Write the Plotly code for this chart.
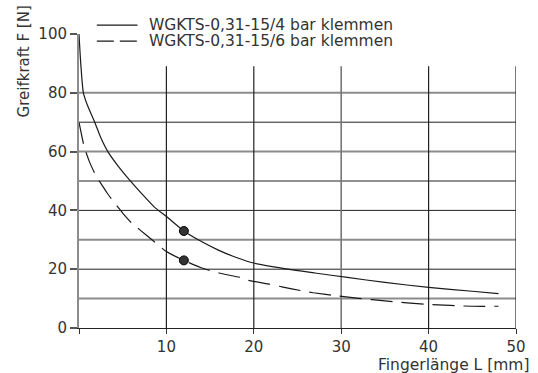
import plotly.graph_objects as go

# ---- data ----
x_4bar = [0, 0.2, 0.5, 1.0, 1.8, 2.5, 3.3, 4.5, 5.8, 7.2, 8.6, 10, 12, 13.7, 16, 18, 20, 23.5, 27, 30.7, 35, 40, 45, 48]
y_4bar = [100, 90, 80, 75.5, 70, 64.7, 60, 55, 50.3, 45.6, 41.2, 37.9, 33, 29.9, 26.4, 24, 22.1, 20.2, 18.7, 17.2, 15.5, 13.8, 12.5, 11.7]

x_6bar = [0, 0.6, 1.2, 2.0, 2.5, 3.2, 4.1, 5, 6, 7, 8.35, 10, 12, 13.9, 16, 18.4, 19.4, 22, 23.2, 25.8, 26.8, 29.6, 32, 35, 40, 45, 48]
y_6bar = [70, 61.6, 56.5, 51.4, 49.2, 46, 42.4, 39.1, 35.8, 33.3, 30, 26, 23, 20.6, 18.7, 17.2, 16.2, 14.8, 14.0, 12.5, 12.0, 10.9, 10.1, 9.2, 8.0, 7.4, 7.4]

marker_x = [12, 12]
marker_y = [33, 23]

series_names = ["WGKTS-0,31-15/4 bar klemmen", "WGKTS-0,31-15/6 bar klemmen"]
x_tick_vals = [0, 10, 20, 30, 40, 50]
x_tick_text = ["", "10", "20", "30", "40", "50"]
y_tick_vals = [0, 20, 40, 60, 80, 100]
h_grid = [10, 20, 30, 40, 50, 60, 70, 80]
v_grid = [10, 20, 30, 40, 50]
grid_top = 89

FONT = "DejaVu Sans"
TXT = "#333333"

fig = go.Figure()
fig.add_trace(go.Scatter(x=x_4bar, y=y_4bar, mode="lines", name=series_names[0],
                         line=dict(color="#1a1a1a", width=1.2, shape="spline", smoothing=0.6),
                         showlegend=False))
fig.add_trace(go.Scatter(x=x_6bar, y=y_6bar, mode="lines", name=series_names[1],
                         line=dict(color="#1a1a1a", width=1.2, dash="22px,9px", shape="spline", smoothing=0.6),
                         showlegend=False))
fig.add_trace(go.Scatter(x=marker_x, y=marker_y, mode="markers",
                         marker=dict(size=9, color="#333333", line=dict(color="#000", width=1)),
                         showlegend=False, cliponaxis=False))

shapes = []
gray_h = {80, 60, 30, 10}
for v in h_grid:
    g = v in gray_h
    shapes.append(dict(type="line", xref="x", yref="y", x0=0, x1=50, y0=v, y1=v, layer="below",
                       line=dict(color="#8c8c8c" if g else "#222222", width=2 if g else 1)))
for v in v_grid:
    g = v == 30
    shapes.append(dict(type="line", xref="x", yref="y", x0=v, x1=v, y0=0, y1=grid_top, layer="below",
                       line=dict(color="#777777" if g else "#222222", width=1.6 if g else 1.2)))

# legend (manual)
shapes.append(dict(type="line", xref="paper", yref="paper", x0=0.0408, x1=0.1338, y0=1.030, y1=1.030,
                   line=dict(color="#1a1a1a", width=1.2)))
shapes.append(dict(type="line", xref="paper", yref="paper", x0=0.0408, x1=0.1338, y0=0.976, y1=0.976,
                   line=dict(color="#1a1a1a", width=1.2, dash="17px,6px")))

annotations = [
    dict(text=series_names[0], xref="paper", yref="paper", x=0.1565, y=1.030, xanchor="left",
         yanchor="middle", showarrow=False, font=dict(family=FONT, size=15.5, color=TXT)),
    dict(text=series_names[1], xref="paper", yref="paper", x=0.1565, y=0.976, xanchor="left",
         yanchor="middle", showarrow=False, font=dict(family=FONT, size=15.5, color=TXT)),
    dict(text="Fingerlänge L [mm]", xref="paper", yref="paper", x=1.034, y=-0.127, xanchor="right",
         yanchor="middle", showarrow=False, font=dict(family=FONT, size=15.5, color=TXT)),
    dict(text="Greifkraft F [N]", xref="paper", yref="paper", x=-0.127, y=0.905, xanchor="center",
         yanchor="middle", textangle=-90, showarrow=False, font=dict(family=FONT, size=15, color=TXT)),
]

fig.update_layout(
    width=538, height=373,
    margin=dict(l=79, r=18, t=34, b=45, pad=0),
    paper_bgcolor="white", plot_bgcolor="white",
    shapes=shapes, annotations=annotations,
    font=dict(family=FONT, size=15, color=TXT),
)
fig.update_xaxes(range=[0, 50], showgrid=False, zeroline=False, showline=True, linecolor="#222222",
                 linewidth=1.2, ticks="outside", ticklen=5, tickcolor="#333333", tickwidth=1.2,
                 tickvals=x_tick_vals, ticktext=x_tick_text, tickfont=dict(family=FONT, size=15, color=TXT))
fig.update_yaxes(range=[0, 100], showgrid=False, zeroline=False, showline=True, linecolor="#8c8c8c",
                 linewidth=2, ticks="outside", ticklen=7, tickcolor="#555555", tickwidth=1.5,
                 tickvals=y_tick_vals, tickfont=dict(family=FONT, size=15, color=TXT))

fig.write_html("out.html", config={"displayModeBar": False},
               post_script="document.body.style.margin='0';document.body.style.overflow='hidden';")
